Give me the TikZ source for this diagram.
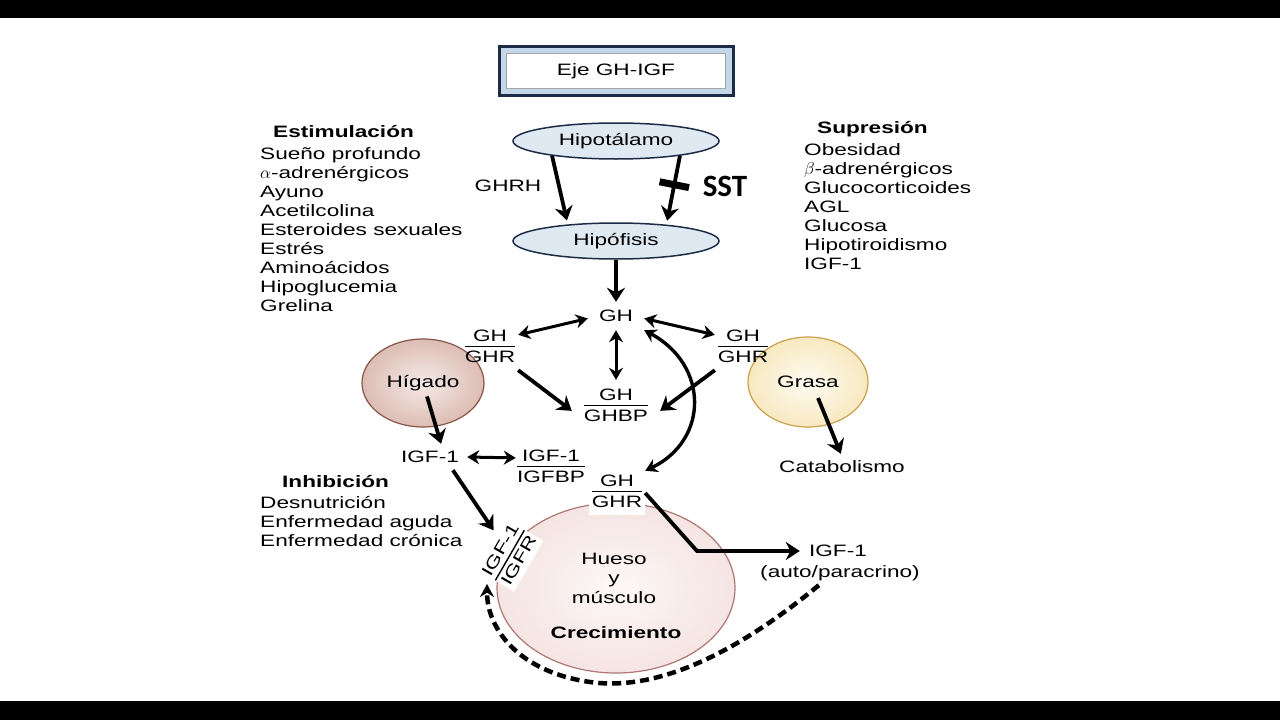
\documentclass[tikz,border=0pt]{standalone}
\usepackage{fontspec}
\setmainfont[FakeStretch=1.37]{Liberation Sans}
\newfontfamily\sstfont{Carlito}
\usetikzlibrary{arrows.meta,calc,shapes.geometric}
\definecolor{navy}{HTML}{1D2C46}
\definecolor{band}{HTML}{C4D7E8}
\definecolor{glandblue}{HTML}{DEE9F2}
\definecolor{higc}{HTML}{F5EAE7}
\definecolor{higm}{HTML}{DBBBB2}
\definecolor{hige}{HTML}{A06B5E}
\definecolor{higo}{HTML}{875649}
\definecolor{grac}{HTML}{FEFBF2}
\definecolor{gram}{HTML}{F6E6BA}
\definecolor{grae}{HTML}{DAB567}
\definecolor{grao}{HTML}{C9A14F}
\definecolor{huec}{HTML}{FDF8F7}
\definecolor{huem}{HTML}{F3E0DE}
\definecolor{huee}{HTML}{CF9F9B}
\definecolor{hueo}{HTML}{AE7774}
\pgfdeclareradialshading{higsh}{\pgfpoint{0bp}{0bp}}{color(0bp)=(higc); color(26bp)=(higm); color(50bp)=(hige)}
\pgfdeclareradialshading{grash}{\pgfpoint{0bp}{0bp}}{color(0bp)=(grac); color(28bp)=(gram); color(50bp)=(grae)}
\pgfdeclareradialshading{huesh}{\pgfpoint{0bp}{0bp}}{color(0bp)=(huec); color(30bp)=(huem); color(50bp)=(huee)}
\newcommand{\fr}[2]{\setlength{\arrayrulewidth}{1.4pt}\begin{tabular}{@{}c@{}}#1\\[-1pt]\hline\rule{0pt}{15pt}#2\end{tabular}}
\tikzset{
  gland/.style={ellipse, draw=navy, line width=1.5pt, fill=glandblue, minimum width=206, minimum height=36},
  organ/.style={ellipse, line width=1.2pt},
  arr/.style={line width=3.8pt, -{Stealth[length=14pt,width=18pt]}},
  darr/.style={line width=3pt, {Stealth[length=12pt,width=14pt]}-{Stealth[length=12pt,width=14pt]}},
  dsh/.style={line width=4.5pt, dash pattern=on 9pt off 5pt, -{Stealth[length=13pt,width=14pt]}},
  hdr/.style={font=\fontsize{16.5}{19}\selectfont\bfseries, anchor=base west},
  item/.style={anchor=base west}
}
\begin{document}
\begin{tikzpicture}[x=1pt,y=-1pt, every node/.style={font=\fontsize{16.5}{19}\selectfont, inner sep=0pt}]
\useasboundingbox (0,0) rectangle (1280,720);
\fill[white] (0,0) rectangle (1280,720);
\fill[black] (0,0) rectangle (1280,18);
\fill[black] (0,701) rectangle (1280,720);

% title
\node[draw=navy, line width=3pt, fill=band, minimum width=234, minimum height=49] (titleframe) at (616,71) {};
\node[draw=gray!70, line width=0.8pt, fill=white, minimum width=219, minimum height=35] (title) at (616,71) {Eje GH-IGF};

% glands
\node[gland] (hipo) at (616,141) {Hipotálamo};
\node[gland] (hipof) at (616,241) {Hipófisis};
\node (ghrh) at (508,186) {GHRH};
\node[font=\sstfont\bfseries\fontsize{31}{31}\selectfont] (sst) at (725,186) {SST};
\draw[arr, shorten >=4pt] (hipo.193) -- (hipof.161);
\draw[arr, shorten >=4pt] (hipo.-13) -- node[pos=0.42, sloped, fill=black, minimum width=7, minimum height=30] (bar) {} (hipof.18);

% organs (drawn first so labels lie on top)
\node[organ, shading=higsh, draw=higo, minimum width=122, minimum height=88] (hig) at (423,383) {Hígado};
\node[organ, shading=grash, draw=grao, minimum width=120, minimum height=90] (gra) at (808,382) {Grasa};
\node[organ, shading=huesh, draw=hueo, minimum width=238, minimum height=170] (hue) at (616,588) {};

% GH system
\node[minimum width=56, minimum height=28] (gh) at (616,316) {GH};
\node[minimum width=56, minimum height=44] (ghrl) at (490,348) {\fr{GH}{GHR}};
\node[minimum width=56, minimum height=44] (ghrr) at (743,348) {\fr{GH}{GHR}};
\node[minimum width=88, minimum height=54] (ghbp) at (616,407) {\fr{GH}{GHBP}};
\draw[arr] (hipof.south) -- (gh.north);
\draw[darr] (ghrl.25) -- (gh.185);
\draw[darr] (gh.-5) -- (ghrr.155);
\draw[darr] (gh.south) -- (ghbp.north);
\draw[arr] (ghrl.south east) -- (ghbp.185);
\draw[arr] (ghrr.south west) -- (ghbp.-5);

% liver, fat
\node[minimum width=74, minimum height=26] (igf) at (430,457) {IGF-1};
\node[minimum width=70, minimum height=44] (igfbp) at (551,468) {\fr{IGF-1}{IGFBP}};
\node[minimum height=26] (cat) at (842,467) {Catabolismo};
\draw[arr, shorten <=14pt] (hig.center) -- (igf.50);
\draw[darr] (igf.east) -- (igfbp.164);
\draw[arr] ([shift={(10,16)}]gra.center) -- (cat.95);

% bone and muscle
\node[align=center, font=\fontsize{16.5}{19.5}\selectfont] (huetxt) at (614,578) {Hueso\\y\\músculo};
\node[font=\fontsize{16.5}{19}\selectfont\bfseries] (crec) at (616,633) {Crecimiento};
\node[fill=white, minimum width=56, minimum height=44] (ghrb) at (617,493) {\fr{GH}{GHR}};
\node[rotate=60, fill=white, inner sep=0.5pt] (igfr) at (511,556) {\fr{IGF-1}{IGFR}};
\node[minimum width=76, minimum height=22] (igfa) at (838,551) {IGF-1};
\node[minimum height=24] (autop) at (840,573) {(auto/paracrino)};
\coordinate (bend) at (697,551);
\coordinate (dashend) at (487,584);
\draw[darr, line width=3.4pt] (ghrb.north east) .. controls (709,440) and (709,365) .. (gh.south east);
\draw[arr, shorten >=8pt] (igf.-30) -- (igfr);
\draw[arr] (ghrb.east) -- (bend) -- (igfa.west);
\draw[dsh] (autop.-150) .. controls (740,650) and (660,692) .. (590,682) .. controls (520,672) and (487,630) .. (dashend);

% lists
\node[hdr] (esth) at (273,137) {Estimulación};
\foreach \t [count=\i from 0] in {Sueño profundo,$\alpha$-adrenérgicos,Ayuno,Acetilcolina,Esteroides sexuales,Estrés,Aminoácidos,Hipoglucemia,Grelina}
  \node[item] (est\i) at (260,{159+19*\i}) {\t};
\node[hdr] (suph) at (817,133) {Supresión};
\foreach \t [count=\i from 0] in {Obesidad,$\beta$-adrenérgicos,Glucocorticoides,AGL,Glucosa,Hipotiroidismo,IGF-1}
  \node[item] (sup\i) at (804,{155+19*\i}) {\t};
\node[hdr] (inhh) at (282,487) {Inhibición};
\foreach \t [count=\i from 0] in {Desnutrición,Enfermedad aguda,Enfermedad crónica}
  \node[item] (inh\i) at (260,{508+19*\i}) {\t};
\end{tikzpicture}
\end{document}
